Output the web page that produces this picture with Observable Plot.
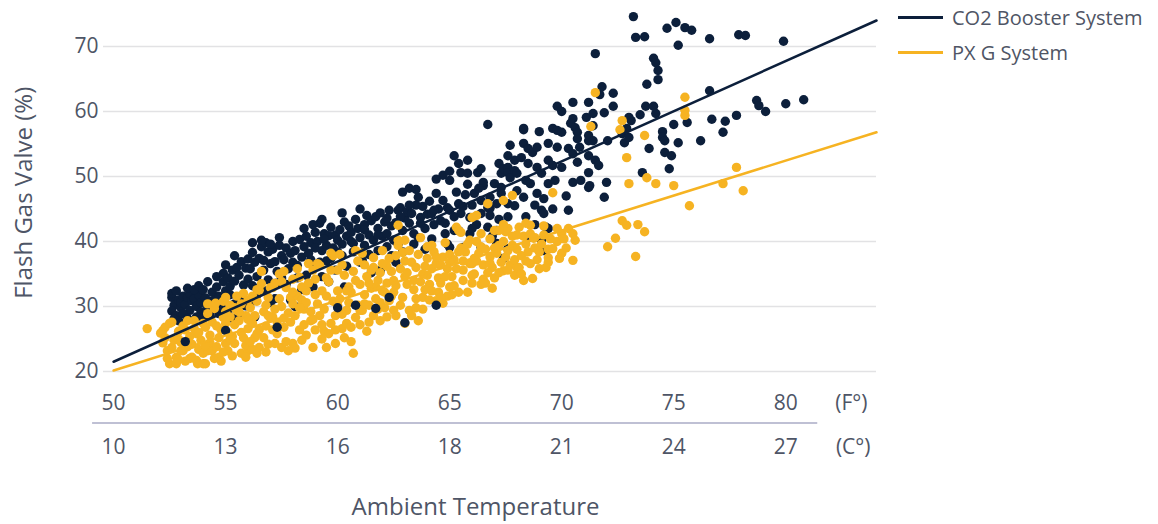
<!DOCTYPE html>
<html><head><meta charset="utf-8">
<script src="https://cdn.jsdelivr.net/npm/d3@7"></script>
<script src="https://cdn.jsdelivr.net/npm/@observablehq/plot@0.6"></script>
<style>
body{margin:0;background:#fff;font-family:"Open Sans",sans-serif;}
#wrap{position:relative;width:1158px;height:524px;overflow:hidden;}
.leg{position:absolute;left:898px;height:24px;display:flex;align-items:center;font-size:20px;color:#4f5565;white-space:nowrap;}
.leg .sw{width:45px;height:3px;margin-right:9px;}
</style></head><body>
<div id="wrap"></div>
<script>
// ---------- data (°F, Flash Gas Valve %) ----------
const seriesNames = ["CO2 Booster System", "PX G System"];
const seriesColors = ["#0c1f3b", "#f6b322"];

const co2Points = [
[52.6,31.4],[52.7,30.2],[52.6,29.3],[52.8,28.6],[52.9,31.0],[53.0,29.8],[52.9,27.8],[53.0,30.6],[52.7,28.1],
[53.1,31.6],[53.2,30.3],[53.3,31.4],[53.4,29.4],[53.1,28.9],[53.3,28.2],[53.5,30.9],[53.4,32.0],
[53.6,31.2],[53.7,30.0],[53.8,31.8],[53.9,29.2],[53.7,28.4],[54.0,28.3],[53.9,30.6],
[54.1,31.3],[54.2,29.8],[54.3,30.8],[54.4,32.2],[54.3,28.7],[54.5,31.0],
[54.6,33.0],[54.7,31.6],[54.8,30.2],[54.9,35.1],[54.9,33.8],[55.0,32.4],[54.7,28.9],[54.8,29.6],
[55.1,34.4],[55.2,33.1],[55.3,35.6],[55.2,31.8],[55.4,30.4],[55.1,29.2],[55.4,33.9],[55.5,36.0],[55.3,28.2],
[55.6,34.8],[55.7,36.9],[55.8,33.3],[55.9,35.9],[55.7,31.6],[56.0,34.2],[55.9,30.1],[55.6,29.0],[56.0,37.3],
[56.1,35.8],[56.2,38.3],[56.3,36.8],[56.4,34.6],[56.2,33.2],[56.4,31.8],[56.5,37.4],[56.1,30.5],[56.3,28.4],
[56.6,39.2],[56.7,37.1],[56.8,39.8],[56.9,38.4],[56.7,35.6],[56.9,34.1],[57.0,36.6],[56.8,32.4],[57.0,30.6],
[57.1,38.8],[57.2,36.9],[57.3,35.4],[57.4,39.4],[57.3,33.6],[57.5,37.8],[57.2,31.2],[57.5,34.4],
[57.6,37.2],[57.7,39.0],[57.8,35.8],[57.9,38.2],[57.7,33.4],[58.0,36.8],[57.9,31.0],[58.0,40.0],
[58.1,38.6],[58.2,36.3],[58.3,40.3],[58.4,37.6],[58.2,34.4],[58.5,39.2],[58.4,32.6],[58.1,30.0],
[58.6,40.8],[58.7,38.2],[58.8,39.8],[58.9,36.4],[58.6,34.8],[59.0,41.4],[58.9,33.0],[58.8,37.2],
[59.2,42.8],[59.1,40.0],[59.3,38.6],[59.4,41.2],[59.2,36.8],[59.5,39.4],[59.3,34.6],[59.5,37.0],
[59.6,40.9],[59.7,42.2],[59.8,39.0],[59.9,41.0],[59.7,37.4],[60.0,40.2],[59.9,35.6],[59.6,33.8],
[60.1,41.8],[60.2,39.6],[60.3,43.0],[60.4,40.8],[60.2,37.8],[60.5,42.4],[60.4,36.2],[60.3,33.0],
[60.7,39.7],[60.6,41.4],[60.8,43.4],[60.9,42.0],[60.7,38.4],[61.0,40.6],[61.0,36.8],
[61.1,37.1],[61.2,42.6],[61.3,44.0],[61.4,41.0],[61.2,39.4],[61.5,43.2],[61.4,38.0],[61.5,35.2],
[61.6,40.2],[61.7,43.8],[61.8,42.0],[61.9,44.4],[62.0,40.8],[61.9,35.5],[61.8,38.6],
[62.1,43.0],[62.2,41.2],[62.3,44.8],[62.4,42.4],[62.5,40.2],[62.4,37.8],[62.2,39.2],
[62.6,42.9],[62.7,44.8],[62.8,45.2],[62.9,41.7],[62.7,39.6],[63.0,43.6],[62.9,38.4],[62.6,36.8],
[63.2,48.2],[63.1,44.6],[63.3,44.3],[63.4,41.2],[63.2,42.8],[63.5,45.6],[63.4,39.6],
[63.6,46.8],[63.7,43.7],[63.8,45.4],[63.9,42.0],[63.6,40.6],[64.0,44.2],[63.9,38.8],
[64.2,44.3],[64.1,46.2],[64.3,42.6],[64.2,40.4],[64.5,45.0],[64.4,47.4],
[64.7,50.2],[64.6,43.2],[64.7,46.3],[64.8,41.2],[64.9,45.2],[65.0,49.4],[65.0,44.8],[64.9,39.6],
[65.4,45.8],[65.5,44.3],[65.4,52.0],[65.5,50.6],[65.2,41.7],[65.4,41.7],[65.0,39.1],[65.3,47.6],
[65.6,39.1],[65.8,52.5],[65.8,50.5],[65.9,43.7],[65.9,41.2],[65.7,47.2],[66.0,45.6],[65.8,48.8],
[66.1,47.4],[66.25,50.6],[66.4,46.3],[66.4,44.3],[66.4,39.1],[66.4,51.2],[66.2,42.6],[66.5,48.6],
[66.7,58.0],[66.8,46.8],[66.8,45.1],[66.5,49.1],[66.7,42.2],[66.7,45.2],[67.0,48.9],[66.9,40.8],
[67.2,52.0],[67.1,45.8],[67.1,41.7],[67.1,39.7],[67.3,50.5],[67.3,48.3],[67.3,47.4],[67.4,51.2],[67.4,37.4],
[67.6,53.2],[67.6,51.4],[67.6,50.6],[67.6,45.8],[67.6,38.9],[67.7,54.8],[67.7,49.8],[67.9,52.5],[67.9,50.9],[67.9,45.5],
[68.2,52.9],[68.0,50.5],[68.3,57.4],[68.3,55.1],[68.3,46.8],[68.3,57.2],[68.5,54.3],[68.5,52.0],[68.5,40.6],[68.4,43.8],
[68.6,48.9],[68.7,53.7],[68.9,54.5],[68.9,51.4],[68.9,47.4],[68.8,42.6],[69.0,56.9],
[69.1,50.5],[69.1,44.8],[69.2,44.3],[69.1,40.2],[69.2,38.6],[69.3,42.2],[69.4,55.1],[69.4,52.5],[69.4,48.9],[69.4,42.0],
[69.6,57.4],[69.6,51.7],[69.7,49.4],[69.8,60.8],[69.8,57.1],[69.8,54.5],[70.0,60.0],[70.0,56.8],
[70.3,54.3],[70.5,53.5],[70.5,58.9],[70.4,58.2],[70.5,61.4],[70.5,49.1],[70.2,47.0],
[70.6,57.5],[70.7,56.8],[70.7,55.8],[70.8,54.5],[70.85,49.4],
[71.2,61.4],[71.1,59.1],[71.2,55.5],[71.2,48.3],[71.2,50.6],[71.2,53.2],[71.25,48.6],[71.2,56.3],[71.4,57.8],[71.4,55.5],[71.4,59.7],[71.5,52.5],[71.5,68.9],
[71.65,51.7],[71.7,62.6],[71.8,63.8],[71.9,59.8],[71.9,46.8],[72.0,49.1],
[72.05,55.5],[72.3,62.8],[72.3,60.8],[72.7,56.6],[72.8,55.2],[72.9,57.4],[73.0,56.0],[73.0,59.1],[73.1,58.6],[73.2,74.6],[73.3,71.4],[73.5,59.5],[73.6,50.6],[73.7,71.5],[73.75,60.8],[73.8,64.2],[73.9,54.3],
[74.1,68.2],[74.1,60.8],[74.2,67.5],[74.2,59.7],[74.3,66.3],[74.3,64.9],[74.5,56.9],[74.5,56.0],[74.6,55.5],[74.6,53.7],[74.7,72.8],[74.8,51.2],[74.9,53.2],
[75.0,58.0],[75.1,73.7],[75.2,70.2],[75.2,55.2],[75.5,72.9],[75.6,58.3],[75.8,72.5],[76.2,55.5],[76.6,71.2],[76.6,63.2],[76.7,58.8],
[77.2,56.8],[77.3,58.5],[77.8,59.4],[77.9,71.8],[78.2,71.7],[78.7,61.7],[78.8,60.9],[79.1,60.0],[79.9,70.8],[80.0,61.2],[80.8,61.8],
[52.6,32.0],[52.8,32.4],[53.3,32.8],[53.6,32.6],[53.8,33.2],[54.0,32.6],[54.2,33.8],[54.6,34.6],[55.0,36.4],
[55.4,37.8],[56.2,39.8],[56.6,40.2],[57.0,39.6],[57.4,40.6],[58.5,42.0],[58.9,42.6],
[59.3,43.4],[60.2,44.4],[61.0,45.0],[62.9,47.6],[63.5,48.0],
[64.4,49.6],[65.0,50.8],[65.2,53.2],
[59.0,39.0],[59.4,40.4],[60.0,38.4],[60.6,40.0],[61.2,41.8],[61.8,41.0],[62.2,43.6],[62.8,43.8],[63.2,45.6],[63.7,42.8],
[64.3,44.8],[64.8,42.8],[65.2,43.8],[65.6,45.4],[66.0,42.0],[66.3,48.2],[66.8,44.0],[67.2,43.4],[67.6,43.8],[68.0,47.8],
[68.4,49.4],[68.8,45.6],[69.2,46.6],[69.6,45.0],[70.0,51.4],[70.3,44.8],[70.7,52.2]
];

const pxgPoints = [
[51.5,26.6],
[52.1,25.9],[52.2,26.3],[52.3,26.8],[52.3,25.2],[52.4,23.2],[52.2,24.4],[52.5,27.4],
[52.5,21.2],[52.6,23.7],[52.8,22.2],[52.8,21.2],[52.7,24.8],[52.9,26.2],[53.0,23.2],[52.6,27.6],[52.9,25.0],
[53.1,23.2],[53.0,24.5],[53.2,26.4],[53.3,27.8],[53.4,22.0],[53.5,22.2],[53.2,21.6],[53.4,25.4],[53.5,24.2],
[53.6,27.8],[53.7,25.8],[53.75,21.2],[53.7,21.7],[53.8,23.4],[54.0,22.8],[54.0,27.4],[53.9,24.8],[54.0,21.2],[53.6,26.6],
[54.1,21.2],[54.2,28.9],[54.2,23.2],[54.4,23.2],[54.3,25.6],[54.1,26.8],[54.4,27.6],[54.5,29.7],[54.3,24.4],[54.5,22.0],[54.2,30.4],
[54.55,30.5],[54.7,25.2],[54.7,22.2],[54.9,28.3],[55.0,27.4],[55.0,24.3],[54.8,26.4],[54.6,23.8],[54.9,30.8],[55.0,29.2],[54.8,21.6],
[55.0,31.4],[55.1,26.0],[55.2,28.4],[55.4,24.3],[55.3,22.4],[55.2,30.2],[55.4,27.2],[55.5,29.4],[55.1,23.2],[55.3,25.4],[55.5,31.6],
[55.8,25.2],[55.7,22.8],[56.0,23.2],[55.8,32.0],[55.6,27.8],[55.7,30.4],[55.9,28.6],[56.0,26.6],[55.9,24.0],[55.6,29.2],[56.0,31.0],
[56.1,29.8],[56.2,27.4],[56.3,25.2],[56.4,32.6],[56.2,23.4],[56.4,30.8],[56.3,28.6],[56.5,26.4],[56.1,24.6],[56.5,32.5],[56.4,22.8],
[56.5,23.7],[56.6,33.5],[56.7,29.2],[56.8,27.0],[56.9,31.4],[56.7,25.2],[57.0,32.9],[56.9,24.2],[56.8,30.2],[57.0,28.2],[56.6,35.4],
[57.1,32.9],[57.2,24.3],[57.5,23.7],[57.2,29.6],[57.3,27.6],[57.4,31.2],[57.3,25.8],[57.5,33.8],[57.1,28.4],[57.4,35.0],[57.5,30.0],
[57.7,32.9],[57.6,26.8],[57.8,29.0],[57.9,31.4],[58.0,24.3],[57.7,24.6],[58.0,34.2],[57.9,27.6],[57.6,35.4],[58.0,30.4],
[58.3,34.5],[58.4,24.8],[58.1,28.6],[58.2,31.6],[58.3,26.4],[58.4,33.0],[58.5,29.6],[58.2,35.8],[58.5,27.2],[58.1,23.6],[58.4,31.0],
[58.9,23.7],[58.6,30.6],[58.7,33.6],[58.8,27.8],[58.9,35.6],[58.6,25.6],[59.0,31.8],[58.8,29.2],[59.0,26.4],[58.7,36.6],
[59.1,36.6],[59.2,36.3],[59.5,23.7],[59.2,28.6],[59.3,32.4],[59.4,26.2],[59.1,30.4],[59.5,34.4],[59.3,25.0],[59.4,29.6],
[59.7,38.2],[59.8,37.8],[59.9,24.3],[59.6,33.8],[59.7,27.4],[59.8,30.8],[60.0,35.6],[59.9,28.6],[60.0,32.4],[59.6,25.8],
[60.1,31.2],[60.2,26.6],[60.3,34.8],[60.4,29.4],[60.2,36.4],[60.5,33.0],[60.4,27.4],[60.1,38.0],[60.5,30.6],[60.3,25.2],
[60.7,22.8],[60.8,28.3],[60.6,32.2],[60.7,35.4],[60.9,30.2],[60.9,37.0],[61.0,33.4],[60.6,26.8],[61.0,29.4],[60.8,38.6],
[61.1,29.4],[61.2,31.8],[61.3,34.6],[61.4,27.6],[61.2,36.4],[61.5,32.8],[61.4,30.2],[61.1,38.2],[61.3,26.2],[61.5,35.6],
[61.6,37.5],[61.7,33.0],[61.8,29.6],[61.9,35.2],[61.7,31.2],[62.0,32.4],[61.9,27.8],[61.6,36.0],[62.0,38.6],[61.8,34.0],
[62.1,29.8],[62.3,30.9],[62.5,29.4],[62.2,33.6],[62.4,35.4],[62.3,37.4],[62.1,32.2],[62.5,34.0],[62.4,31.6],[62.2,36.2],
[62.7,39.4],[62.7,42.5],[62.7,40.2],[62.9,38.3],[62.6,33.2],[62.8,35.8],[62.9,31.4],[63.0,34.6],[62.6,28.6],[63.0,37.0],
[63.0,27.4],[63.0,40.2],[63.2,29.4],[63.4,32.6],[63.1,35.2],[63.3,36.8],[63.5,29.8],[63.2,38.6],[63.4,34.0],[63.5,31.2],
[63.6,27.8],[63.8,31.4],[63.7,33.8],[63.9,36.2],[63.6,38.0],[64.0,34.8],[63.8,29.6],[64.0,37.4],[63.7,40.6],
[64.4,30.9],[64.1,33.4],[64.2,35.8],[64.3,38.4],[64.5,32.2],[64.4,36.6],[64.1,31.0],[64.5,34.4],[64.2,39.4],
[64.7,30.5],[64.8,39.8],[64.6,33.6],[64.9,35.8],[64.7,37.6],[65.0,33.0],[64.9,31.6],[65.0,38.0],[64.6,36.4],
[65.3,42.2],[65.4,41.7],[65.5,41.4],[65.1,34.6],[65.2,37.2],[65.4,32.2],[65.3,35.8],[65.5,39.0],[65.1,31.8],
[65.8,32.2],[66.0,43.7],[65.9,36.6],[65.6,34.0],[65.7,38.4],[66.0,36.6],[65.9,40.2],[65.6,37.0],[66.0,33.6],
[66.2,44.0],[66.1,35.0],[66.3,38.2],[66.4,33.4],[66.2,40.0],[66.5,36.4],[66.4,39.2],[66.1,37.4],[66.5,34.2],
[66.7,45.8],[66.9,32.8],[66.9,36.0],[66.6,38.8],[66.8,40.4],[66.7,35.2],[67.0,41.7],[66.8,37.6],[67.0,34.4],
[67.4,46.3],[67.4,35.5],[67.5,41.5],[67.2,41.7],[67.1,38.2],[67.3,36.8],[67.2,39.4],[67.5,37.6],[67.4,40.0],
[67.8,47.1],[67.9,34.8],[67.6,38.6],[67.7,36.4],[67.8,40.8],[68.0,38.8],[67.9,37.2],[67.6,42.0],[68.0,36.0],
[68.1,42.2],[68.4,42.8],[68.3,34.0],[68.2,37.8],[68.4,39.6],[68.1,36.0],[68.5,38.4],[68.3,40.8],
[68.6,42.5],[68.7,34.3],[68.6,41.2],[68.75,40.5],[68.9,37.2],[68.8,39.0],[69.0,35.8],
[69.3,36.0],[69.4,37.5],[69.1,39.6],[69.2,41.0],[69.4,38.8],[69.5,40.4],
[69.6,38.9],[69.6,47.5],[70.0,38.2],[70.0,41.2],[69.8,40.0],[69.9,37.4],
[70.3,42.0],[70.5,41.2],[70.6,40.2],[70.5,37.1],[70.2,39.0],
[71.3,57.7],[71.5,62.9],[72.05,39.2],[72.4,40.5],[72.6,57.2],[72.7,58.6],[72.7,43.2],[72.9,42.5],[72.9,52.9],[73.0,48.9],
[73.3,37.7],[73.4,42.6],[73.7,41.5],[73.7,56.3],[73.8,49.8],[74.2,48.9],[75.0,48.6],[75.5,62.2],[75.5,60.2],[75.5,59.4],
[75.7,45.5],[77.2,48.9],[77.8,51.4],[78.1,47.8],
[52.4,22.0],[52.9,21.8],[53.1,27.0],[53.3,23.8],[53.8,26.0],[54.1,24.0],[54.6,27.0],[54.9,23.0],[55.2,25.0],[55.4,29.8],
[55.7,26.0],[55.9,22.2],[56.2,31.6],[56.0,28.0],
[56.4,25.8],[56.8,23.0],[56.9,28.6],[57.1,26.4],[57.2,33.6],[57.6,28.2],[57.8,23.2],[58.0,32.2],[58.3,29.8],[58.6,32.4],
[58.9,28.0],[59.0,34.2],[59.3,27.2],[59.5,31.6],[59.7,35.6],[59.9,26.4],[60.0,30.2],
[60.2,28.8],[60.4,32.4],[60.6,24.6],[60.8,34.0],[61.0,27.2],[61.2,30.4],[61.4,33.6],[61.6,28.6],[61.9,30.6],[62.0,36.6],
[62.2,28.4],[62.5,32.2],[62.6,37.8],[62.8,30.2],[63.1,33.4],[63.3,28.6],[63.5,36.0],[63.8,35.0],[63.9,32.6],[64.0,39.2],
[64.2,32.4],[64.4,37.6],[64.6,31.4],[64.8,34.6],[65.0,36.8],[65.2,33.2],[65.4,38.4],[65.6,35.6],[65.8,39.6],[66.0,34.8],
[66.2,37.0],[66.4,41.2],[66.6,33.6],[66.8,36.6],[67.0,39.0],[67.2,35.2],[67.4,42.6],[67.6,35.6],[67.8,39.4],[68.0,41.0],
[68.2,35.0],[68.4,37.0],[68.6,36.6],[68.8,40.6],[69.0,38.4],[69.2,42.4],[69.4,36.8],[69.8,42.0],[70.1,40.4]
];

// CO2 points that sit on top of the PX G cloud
const co2FrontPoints = [[53.2,24.6],[55.0,26.3],[57.3,26.8],[60.0,29.8],[60.8,30.2],[61.7,29.7],[62.3,31.4],[63.0,27.5],[64.4,30.2]];

// fitted trend lines (endpoints)
const trendF = [50, 84.05];
const co2Trend = [21.5, 74.0];
const pxgTrend = [20.15, 56.8];

const yTicks = [20, 30, 40, 50, 60, 70];
const fTicks = [50, 55, 60, 65, 70, 75, 80];
const cTickLabels = ["10", "13", "16", "18", "21", "24", "27"];

// ---------- chart ----------
const textColor = "#4e5566";
const FX = d => d[0], PY = d => d[1];
const trendRows = (ys) => trendF.map((f, i) => ({f, p: ys[i]}));
const R = 4.7;

const svg = Plot.plot({
  width: 1158, height: 524,
  marginLeft: 103, marginRight: 282, marginTop: 13.5, marginBottom: 153,
  x: {domain: [49.55, 84.05], axis: null},
  y: {domain: [20, 75], axis: null},
  style: {fontFamily: '"Open Sans", sans-serif', color: textColor, background: "white", overflow: "visible"},
  marks: [
    Plot.ruleY(yTicks, {stroke: "#e2e2e4", strokeWidth: 1.6}),
    Plot.text(yTicks, {y: d => d, frameAnchor: "left", textAnchor: "end", dx: -5, text: d => String(d), fontSize: 21, fill: textColor}),
    Plot.dot(co2Points, {x: FX, y: PY, r: R, fill: seriesColors[0]}),
    Plot.dot(pxgPoints, {x: FX, y: PY, r: R, fill: seriesColors[1]}),
    Plot.dot(co2FrontPoints, {x: FX, y: PY, r: R, fill: seriesColors[0]}),
    Plot.line(trendRows(co2Trend), {x: "f", y: "p", stroke: seriesColors[0], strokeWidth: 2.5}),
    Plot.line(trendRows(pxgTrend), {x: "f", y: "p", stroke: seriesColors[1], strokeWidth: 2.5}),
    Plot.text(fTicks, {x: d => d, frameAnchor: "bottom", dy: 32, lineAnchor: "middle", text: d => String(d), fontSize: 21, fill: textColor}),
    Plot.text(fTicks, {x: d => d, frameAnchor: "bottom", dy: 75.5, lineAnchor: "middle", text: (d, i) => cTickLabels[i], fontSize: 21, fill: textColor}),
    Plot.text(["(F°)"], {frameAnchor: "bottom-right", textAnchor: "end", dx: -9, dy: 32, lineAnchor: "middle", fontSize: 21, fill: textColor}),
    Plot.text(["(C°)"], {frameAnchor: "bottom-right", textAnchor: "end", dx: -6, dy: 75.5, lineAnchor: "middle", fontSize: 21, fill: textColor}),
    Plot.text(["Ambient Temperature"], {frameAnchor: "bottom", dx: -14.5, dy: 136, lineAnchor: "middle", fontSize: 24, fill: textColor}),
    Plot.text(["Flash Gas Valve (%)"], {frameAnchor: "left", textAnchor: "middle", dx: -79, rotate: -90, lineAnchor: "middle", fontSize: 24, fill: textColor})
  ]
});

// separator between the °F and °C tick rows
const sx = svg.scale("x"), sy = svg.scale("y");
d3.select(svg).append("line")
  .attr("x1", sx.apply(fTicks[0]) - 21).attr("x2", sx.apply(fTicks[fTicks.length - 1]) + 32)
  .attr("y1", sy.apply(yTicks[0]) + 52).attr("y2", sy.apply(yTicks[0]) + 52)
  .attr("stroke", "#bfc0d4").attr("stroke-width", 2.2);

const wrap = document.getElementById("wrap");
wrap.appendChild(svg);

// legend
const legTops = [5, 40];
seriesNames.forEach((name, i) => {
  const row = document.createElement("div");
  row.className = "leg";
  row.style.top = legTops[i] + "px";
  row.innerHTML = `<span class="sw" style="background:${seriesColors[i]}"></span><span>${name}</span>`;
  wrap.appendChild(row);
});
</script>
</body></html>
